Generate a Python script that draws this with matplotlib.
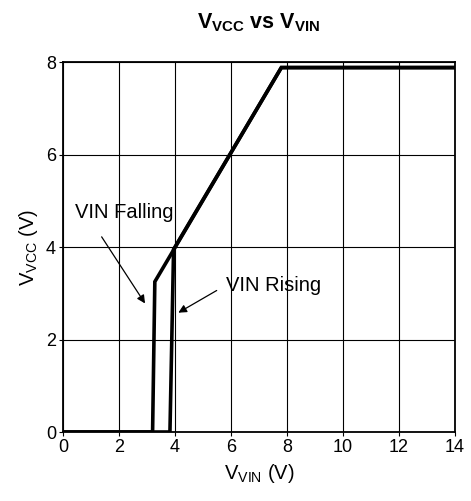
import matplotlib
matplotlib.use("Agg")
import matplotlib.pyplot as plt

plt.rcParams['font.family'] = ['Liberation Sans', 'DejaVu Sans']
plt.rcParams['mathtext.fontset'] = 'custom'
plt.rcParams['mathtext.rm'] = 'Liberation Sans'
plt.rcParams['mathtext.it'] = 'Liberation Sans'
plt.rcParams['mathtext.bf'] = 'Liberation Sans:bold'

# Data
falling_x = [0, 3.2, 3.28, 7.8, 14]
falling_y = [0, 0, 3.25, 7.88, 7.88]
rising_x = [0, 3.82, 3.95, 7.8, 14]
rising_y = [0, 0, 3.95, 7.88, 7.88]
x_ticks = [0, 2, 4, 6, 8, 10, 12, 14]
y_ticks = [0, 2, 4, 6, 8]

fig = plt.figure(figsize=(4.71, 5.01), dpi=100)
ax = fig.add_axes([0.1338, 0.1377, 0.832, 0.7385])

ax.plot(falling_x, falling_y, color='black', lw=2.6, solid_joinstyle='miter')
ax.plot(rising_x, rising_y, color='black', lw=2.6, solid_joinstyle='miter')

ax.set_xlim(0, 14)
ax.set_ylim(0, 8)
ax.set_xticks(x_ticks)
ax.set_yticks(y_ticks)
ax.grid(True, color='black', lw=0.8)
ax.tick_params(labelsize=13, length=3, width=0.8, direction='out', colors='black', pad=2)
for s in ax.spines.values():
    s.set_linewidth(1.3)

ax.set_xlabel(r'V$_{\mathrm{VIN}}$ (V)', fontsize=14.5, labelpad=4)
ax.set_ylabel(r'V$_{\mathrm{VCC}}$ (V)', fontsize=14.5, labelpad=4)
ax.set_title(r'$\mathbf{V_{VCC}}$ vs $\mathbf{V_{VIN}}$', fontsize=15.5, fontweight='bold', pad=24)

arrow = dict(arrowstyle='-|>', color='black', lw=0.9, mutation_scale=12, shrinkA=0, shrinkB=0)
ax.annotate('', xy=(2.93, 2.78), xytext=(1.38, 4.22), arrowprops=arrow)
ax.text(0.43, 4.74, 'VIN Falling', fontsize=14.5, va='center', ha='left')
ax.annotate('', xy=(4.12, 2.58), xytext=(5.49, 3.06), arrowprops=arrow)
ax.text(5.82, 3.16, 'VIN Rising', fontsize=14.5, va='center', ha='left')

fig.savefig('out.png', dpi=100)
